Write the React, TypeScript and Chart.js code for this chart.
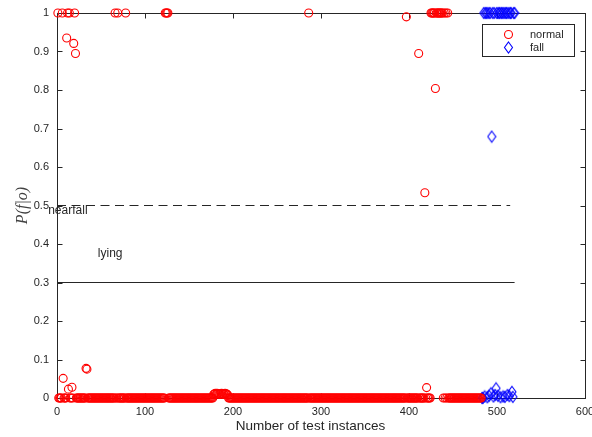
import { useEffect, useRef } from "react";
import { Chart, registerables } from "chart.js";

Chart.register(...registerables);

// Axis ticks
const xTicks = [0, 100, 200, 300, 400, 500, 600];
const yTicks = [0, 0.1, 0.2, 0.3, 0.4, 0.5, 0.6, 0.7, 0.8, 0.9, 1];

// P(f|o) for the "normal" test instances, numbered from 1
const normalProb = [
  1, 0, 0, 0, 0, 1, 0.051, 0, 0, 0, 0.935, 1, 0.023, 1, 0, 0, 0.028, 0, 0.921, 1,
  0.895, 0, 0, 0, 0, 0, 0, 0, 0, 0, 0, 0, 0.077, 0.075, 0, 0, 0, 0, 0, 0,
  0, 0, 0, 0, 0, 0, 0, 0, 0, 0, 0, 0, 0, 0, 0, 0, 0, 0, 0, 0,
  0, 0, 0, 0, 0, 1, 0, 0, 1, 0, 0, 0, 0, 0, 0, 0, 0, 1, 0, 0,
  0, 0, 0, 0, 0, 0, 0, 0, 0, 0, 0, 0, 0, 0, 0, 0, 0, 0, 0, 0,
  0, 0, 0, 0, 0, 0, 0, 0, 0, 0, 0, 0, 0, 0, 0, 0, 0, 0, 0, 0,
  0, 0, 1, 1, 1, 1, 0, 0, 0, 0, 0, 0, 0, 0, 0, 0, 0, 0, 0, 0,
  0, 0, 0, 0, 0, 0, 0, 0, 0, 0, 0, 0, 0, 0, 0, 0, 0, 0, 0, 0,
  0, 0, 0, 0, 0, 0, 0, 0, 0, 0, 0, 0, 0, 0, 0, 0, 0, 0.009, 0.011, 0.012,
  0.01, 0.012, 0.011, 0.01, 0.009, 0.011, 0.012, 0.01, 0.011, 0.009, 0.012, 0.011, 0.01, 0.008, 0, 0, 0, 0, 0, 0,
  0, 0, 0, 0, 0, 0, 0, 0, 0, 0, 0, 0, 0, 0, 0, 0, 0, 0, 0, 0,
  0, 0, 0, 0, 0, 0, 0, 0, 0, 0, 0, 0, 0, 0, 0, 0, 0, 0, 0, 0,
  0, 0, 0, 0, 0, 0, 0, 0, 0, 0, 0, 0, 0, 0, 0, 0, 0, 0, 0, 0,
  0, 0, 0, 0, 0, 0, 0, 0, 0, 0, 0, 0, 0, 0, 0, 0, 0, 0, 0, 0,
  0, 0, 0, 0, 0, 1, 0, 0, 0, 0, 0, 0, 0, 0, 0, 0, 0, 0, 0, 0,
  0, 0, 0, 0, 0, 0, 0, 0, 0, 0, 0, 0, 0, 0, 0, 0, 0, 0, 0, 0,
  0, 0, 0, 0, 0, 0, 0, 0, 0, 0, 0, 0, 0, 0, 0, 0, 0, 0, 0, 0,
  0, 0, 0, 0, 0, 0, 0, 0, 0, 0, 0, 0, 0, 0, 0, 0, 0, 0, 0, 0,
  0, 0, 0, 0, 0, 0, 0, 0, 0, 0, 0, 0, 0, 0, 0, 0, 0, 0, 0, 0,
  0, 0, 0, 0, 0, 0, 0, 0, 0, 0, 0, 0, 0, 0, 0, 0, 0.99, 0, 0, 0,
  0, 0, 0, 0, 0, 0, 0, 0, 0, 0, 0.895, 0, 0, 0, 0, 0, 0, 0.533, 0, 0.027,
  0, 0, 0, 0, 1, 1, 1, 1, 1, 0.804, 1, 1, 1, 1, 1, 1, 1, 1, 0, 1,
  0, 1, 0, 1, 0, 0, 0, 0, 0, 0, 0, 0, 0, 0, 0, 0, 0, 0, 0, 0,
  0, 0, 0, 0, 0, 0, 0, 0, 0, 0, 0, 0, 0, 0, 0, 0, 0, 0, 0, 0,
  0, 0,
];

// P(f|o) for the "fall" test instances, which follow the normal ones
const fallFirstInstance = 483;
const fallProb = [
  0, 0, 1, 0.004, 1, 1, 0.002, 1, 0.006, 1, 0.012, 0.679, 1, 0.004, 1, 0.008, 0.025, 1, 0.006, 1,
  1, 0.002, 1, 1, 0.004, 1, 0.003, 1, 1, 0.008, 1, 0.005, 1, 1, 0.016, 0.003, 1, 1,
];

// Decision thresholds drawn as horizontal lines
const thresholdNames = ["nearfall", "lying"];
const thresholdLevels = [0.5, 0.3];
const thresholdEnds = [515, 520];

const seriesNames = ["normal", "fall"];

const AXIS_COLOR = "#262626";
const FONT = "'Liberation Sans', Arial, Helvetica, sans-serif";

function makeDiamond(): HTMLCanvasElement {
  const c = document.createElement("canvas");
  c.width = 10;
  c.height = 14;
  const g = c.getContext("2d")!;
  g.strokeStyle = "#0000ff";
  g.lineWidth = 1.1;
  g.beginPath();
  g.moveTo(5, 1.5);
  g.lineTo(9, 7);
  g.lineTo(5, 12.5);
  g.lineTo(1, 7);
  g.closePath();
  g.stroke();
  return c;
}

const framePlugin = {
  id: "matlabFrame",
  beforeDatasetsDraw(chart: any) {
    const { ctx, chartArea: a, scales } = chart;
    const L = Math.round(a.left) + 0.5;
    const R = Math.round(a.right) + 0.5;
    const T = Math.round(a.top) + 0.5;
    const B = Math.round(a.bottom) + 0.5;
    ctx.save();
    ctx.strokeStyle = AXIS_COLOR;
    ctx.lineWidth = 1;
    ctx.strokeRect(L, T, R - L, B - T);
    const tl = 5;
    ctx.beginPath();
    for (const v of xTicks) {
      const px = Math.round(scales.x.getPixelForValue(v)) + 0.5;
      ctx.moveTo(px, B);
      ctx.lineTo(px, B - tl);
      ctx.moveTo(px, T);
      ctx.lineTo(px, T + tl);
    }
    for (const v of yTicks) {
      const py = Math.round(scales.y.getPixelForValue(v)) + 0.5;
      ctx.moveTo(L, py);
      ctx.lineTo(L + tl, py);
      ctx.moveTo(R, py);
      ctx.lineTo(R - tl, py);
    }
    ctx.stroke();
    ctx.restore();
  },
  afterDatasetsDraw(chart: any) {
    const { ctx, chartArea: a, scales } = chart;
    ctx.save();
    ctx.fillStyle = AXIS_COLOR;

    // threshold region labels
    ctx.font = `12px ${FONT}`;
    ctx.textAlign = "left";
    ctx.textBaseline = "middle";
    const labelPos = [
      [-10, 0.486],
      [46.4, 0.375],
    ];
    thresholdNames.forEach((name, i) => {
      ctx.fillText(
        name,
        scales.x.getPixelForValue(labelPos[i][0]),
        scales.y.getPixelForValue(labelPos[i][1])
      );
    });

    // legend box
    const bx = a.right - 103.5;
    const by = a.top + 11;
    const bw = 92;
    const bh = 32;
    ctx.fillStyle = "#ffffff";
    ctx.fillRect(bx, by, bw, bh);
    ctx.strokeStyle = AXIS_COLOR;
    ctx.lineWidth = 1;
    ctx.strokeRect(Math.round(bx) + 0.5, Math.round(by) + 0.5, bw, bh);
    const mx = bx + 27;
    const rows = [by + 10.5, by + 23.5];
    ctx.strokeStyle = "#ff0000";
    ctx.lineWidth = 1.1;
    ctx.beginPath();
    ctx.arc(mx, rows[0], 4, 0, Math.PI * 2);
    ctx.stroke();
    ctx.strokeStyle = "#0000ff";
    ctx.beginPath();
    ctx.moveTo(mx, rows[1] - 5.5);
    ctx.lineTo(mx + 4, rows[1]);
    ctx.lineTo(mx, rows[1] + 5.5);
    ctx.lineTo(mx - 4, rows[1]);
    ctx.closePath();
    ctx.stroke();
    ctx.fillStyle = AXIS_COLOR;
    ctx.font = `11px ${FONT}`;
    ctx.textBaseline = "middle";
    seriesNames.forEach((name, i) => ctx.fillText(name, bx + 48.5, rows[i]));

    // axis titles
    ctx.font = `13.5px ${FONT}`;
    ctx.textAlign = "center";
    ctx.textBaseline = "alphabetic";
    ctx.fillText("Number of test instances", (a.left + a.right) / 2 - 10.5, 430);

    ctx.save();
    ctx.translate(23, (a.top + a.bottom) / 2);
    ctx.rotate(-Math.PI / 2);
    ctx.font = `italic 16px 'Liberation Serif', 'DejaVu Serif', serif`;
    ctx.fillStyle = "#404040";
    ctx.textAlign = "center";
    ctx.textBaseline = "middle";
    ctx.fillText("P(f|o)", 0, 0);
    ctx.restore();

    ctx.restore();
  },
};

export default function App() {
  const canvasRef = useRef<HTMLCanvasElement | null>(null);

  useEffect(() => {
    const canvas = canvasRef.current;
    if (!canvas) return;
    const diamond = makeDiamond();

    const lineSets = thresholdNames.map((name, i) => ({
      label: name,
      data: [
        { x: 0, y: thresholdLevels[i] },
        { x: thresholdEnds[i], y: thresholdLevels[i] },
      ],
      showLine: true,
      borderColor: AXIS_COLOR,
      borderWidth: 1,
      borderDash: i === 0 ? [9, 5.5] : [],
      pointRadius: 0,
      fill: false,
    }));

    const chart = new Chart(canvas, {
      type: "scatter",
      data: {
        datasets: [
          ...lineSets,
          {
            label: seriesNames[0],
            data: normalProb.map((p, i) => ({ x: i + 1, y: p })),
            pointStyle: "circle",
            pointRadius: 4,
            borderColor: "#ff0000",
            backgroundColor: "rgba(0,0,0,0)",
            borderWidth: 1.1,
            clip: false,
          },
          {
            label: seriesNames[1],
            data: fallProb.map((p, i) => ({ x: fallFirstInstance + i, y: p })),
            pointStyle: diamond,
            pointRadius: 5,
            borderColor: "#0000ff",
            backgroundColor: "rgba(0,0,0,0)",
            clip: false,
          },
        ] as any,
      },
      options: {
        animation: false,
        responsive: false,
        events: [],
        layout: { padding: { left: 0, right: 7, top: 13, bottom: 0 } },
        plugins: {
          legend: { display: false },
          tooltip: { enabled: false },
        },
        scales: {
          x: {
            type: "linear",
            min: 0,
            max: 600,
            afterBuildTicks: (s: any) => {
              s.ticks = xTicks.map((v) => ({ value: v }));
            },
            afterFit: (s: any) => {
              s.height = 39;
              s.paddingLeft = 0;
              s.paddingRight = 0;
            },
            grid: { display: false, drawTicks: false },
            border: { display: false },
            ticks: {
              color: AXIS_COLOR,
              font: { family: FONT, size: 11 },
              padding: 7,
              maxRotation: 0,
              autoSkip: false,
            },
          },
          y: {
            type: "linear",
            min: 0,
            max: 1,
            afterBuildTicks: (s: any) => {
              s.ticks = yTicks.map((v) => ({ value: v }));
            },
            afterFit: (s: any) => {
              s.width = 57;
              s.paddingTop = 0;
              s.paddingBottom = 0;
            },
            grid: { display: false, drawTicks: false },
            border: { display: false },
            ticks: {
              color: AXIS_COLOR,
              font: { family: FONT, size: 11 },
              padding: 8,
              autoSkip: false,
              callback: (v: any) => String(+Number(v).toFixed(1)),
            },
          },
        },
      },
      plugins: [framePlugin],
    });

    return () => chart.destroy();
  }, []);

  return (
    <div style={{ position: "absolute", left: 0, top: 0, width: 592, height: 437, background: "#fff" }}>
      <canvas ref={canvasRef} width={592} height={437} style={{ display: "block" }} />
    </div>
  );
}
